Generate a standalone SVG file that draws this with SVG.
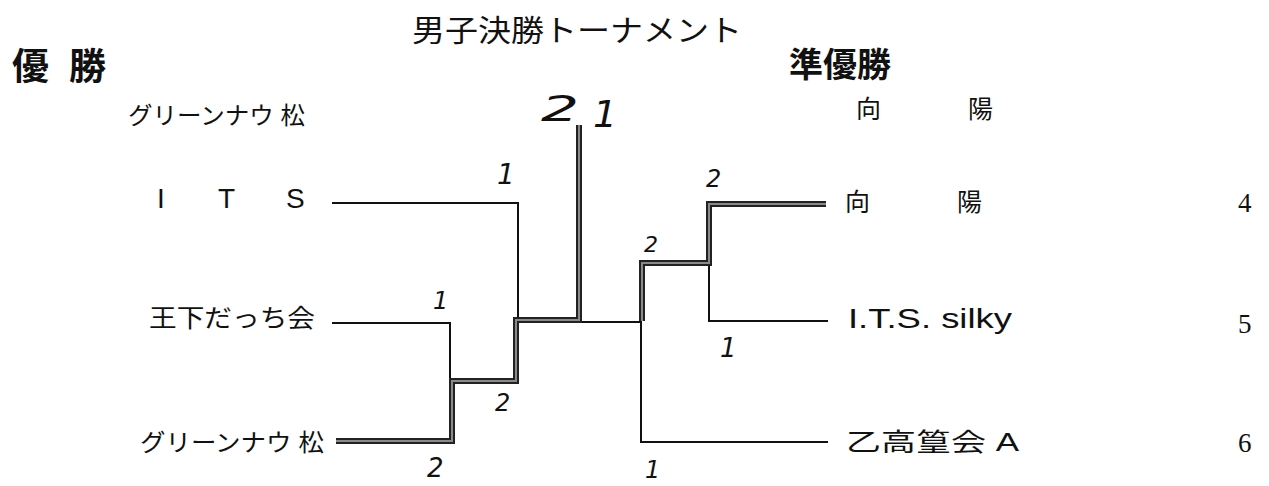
<svg xmlns="http://www.w3.org/2000/svg" width="1269" height="486" viewBox="0 0 1269 486">
<style>
.jp{font-family:"Liberation Sans","Noto Sans CJK JP",sans-serif;fill:#111}
.bold{font-weight:bold}
.num{font-family:"Liberation Serif","Noto Serif",serif;font-size:27px;fill:#111}
.hand{font-family:"DejaVu Sans","Liberation Sans",sans-serif;fill:#111;font-style:italic}
.thin{fill:none;stroke:#111;stroke-width:2}
.thickOut{fill:none;stroke:#222;stroke-width:6;stroke-linejoin:miter}
.thickIn{fill:none;stroke:#8a8a8a;stroke-width:2}
</style>
<rect width="1269" height="486" fill="#fff"/>
<g id="title">
<text class="jp" x="412" y="41" font-size="30" textLength="330" lengthAdjust="spacingAndGlyphs">男子決勝トーナメント</text>
</g>
<g id="winner-label">
<text class="jp bold" x="12" y="80" font-size="37">優</text>
<text class="jp bold" x="69" y="80" font-size="37">勝</text>
</g>
<g id="runnerup-label">
<text class="jp bold" x="789" y="77" font-size="34">準優勝</text>
</g>
<g id="winner-name">
<text class="jp" x="128" y="124" font-size="24" textLength="177" lengthAdjust="spacingAndGlyphs">グリーンナウ 松</text>
</g>
<g id="runnerup-name">
<text class="jp" x="856" y="118" font-size="25">向</text>
<text class="jp" x="968" y="118" font-size="25">陽</text>
</g>
<g id="connectors">
<path class="thin" d="M332,203 H518 V322"/>
<path class="thin" d="M332,323 H450 V382"/>
<path class="thin" d="M518,322 H641"/>
<path class="thin" d="M641,263 V442 H828"/>
<path class="thin" d="M709,204 V321 H828"/>
<path class="thickOut" d="M336,441 H452 V381 H516 V320 H579 V125"/>
<path class="thickIn" d="M336,441 H452 V381 H516 V320 H579 V125"/>
<path class="thickOut" d="M642,321 V263 H709 V204 H826"/>
<path class="thickIn" d="M642,321 V263 H709 V204 H826"/>
</g>
<g id="team-ITS">
<text class="jp" font-size="28" y="208"><tspan x="157">I</tspan><tspan x="218">T</tspan><tspan x="286">S</tspan></text>
</g>
<g id="team-oshita">
<text class="jp" x="149" y="327" font-size="25" textLength="166" lengthAdjust="spacingAndGlyphs">王下だっち会</text>
</g>
<g id="team-green">
<text class="jp" x="140" y="451" font-size="24" textLength="184" lengthAdjust="spacingAndGlyphs">グリーンナウ 松</text>
</g>
<g id="team-koyo">
<text class="jp" x="845" y="211" font-size="25">向</text>
<text class="jp" x="957" y="211" font-size="25">陽</text>
<text class="num" x="1238" y="212">4</text>
</g>
<g id="team-silky">
<text class="jp" x="848" y="328" font-size="27" textLength="164" lengthAdjust="spacingAndGlyphs">I.T.S. silky</text>
<text class="num" x="1238" y="333">5</text>
</g>
<g id="team-otsutaka">
<text class="jp" x="846" y="451" font-size="25" textLength="173" lengthAdjust="spacingAndGlyphs">乙高篁会 A</text>
<text class="num" x="1238" y="452">6</text>
</g>
<g id="scores">
<text class="hand" x="541" y="121" font-size="36" textLength="38" lengthAdjust="spacingAndGlyphs">2</text>
<text class="hand" x="593" y="127" font-size="38" fill="#555">1</text>
<text class="hand" x="497" y="184" font-size="28">1</text>
<text class="hand" x="433" y="309" font-size="24">1</text>
<text class="hand" x="495" y="411" font-size="24">2</text>
<text class="hand" x="427" y="477" font-size="26">2</text>
<text class="hand" x="644" y="252" font-size="22">2</text>
<text class="hand" x="706" y="187" font-size="24">2</text>
<text class="hand" x="720" y="357" font-size="26">1</text>
<text class="hand" x="645" y="478" font-size="24">1</text>
</g>
</svg>
